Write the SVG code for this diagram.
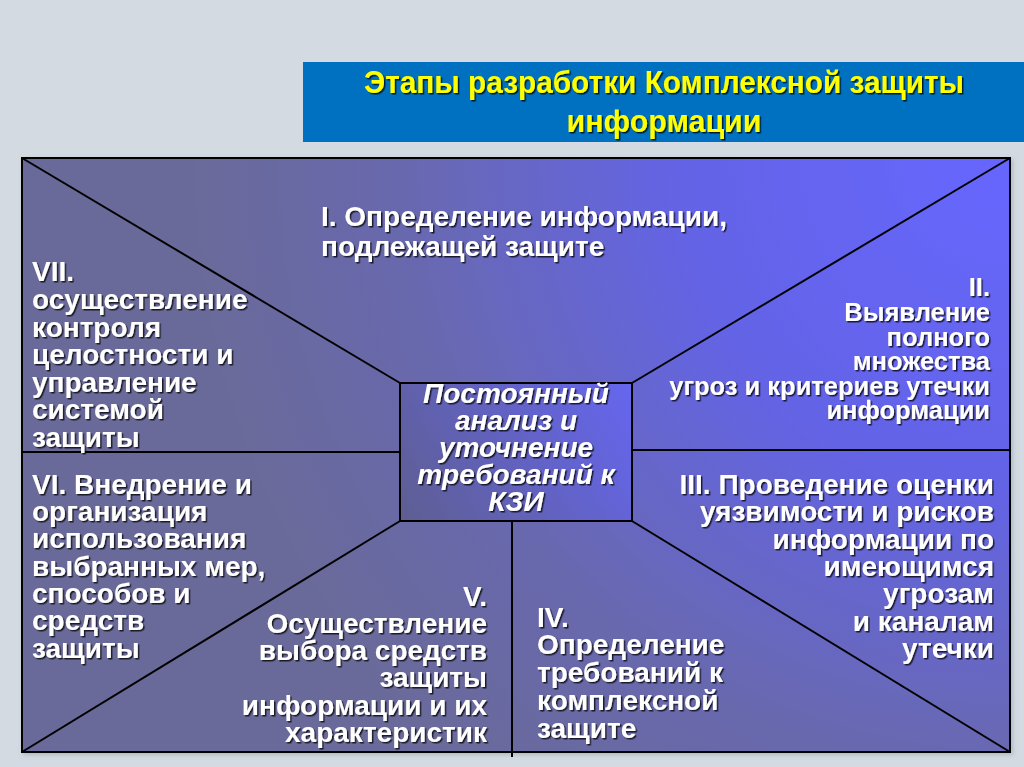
<svg xmlns="http://www.w3.org/2000/svg" width="1024" height="767" viewBox="0 0 1024 767">
<defs>
<radialGradient id="mainGrad" gradientUnits="userSpaceOnUse" cx="1010" cy="158" r="820">
<stop offset="0" stop-color="#6666FF"/>
<stop offset="0.4" stop-color="#6464E6"/>
<stop offset="0.75" stop-color="#6868AE"/>
<stop offset="1" stop-color="#6A6A9A"/>
</radialGradient>
<linearGradient id="boxGrad" gradientUnits="userSpaceOnUse" x1="632" y1="383" x2="400" y2="521">
<stop offset="0" stop-color="#6666F0"/>
<stop offset="1" stop-color="#5E5E92"/>
</linearGradient>
<filter id="shadow" x="-5%" y="-20%" width="110%" height="140%">
<feDropShadow dx="1.5" dy="1.5" stdDeviation="0.6" flood-color="#000" flood-opacity="0.75"/>
</filter>
<filter id="boxShadow" x="-5%" y="-5%" width="110%" height="110%">
<feDropShadow dx="2" dy="2" stdDeviation="2" flood-color="#8899AA" flood-opacity="0.5"/>
</filter>
</defs>
<style>
.lbl{font-family:"Liberation Sans",Arial,sans-serif;font-weight:bold;font-size:28px;fill:#FFFFFF;filter:url(#shadow)}
.small{font-size:25.5px}
.ctr{font-style:italic;text-anchor:middle}
.end{text-anchor:end}
.title{font-family:"Liberation Sans",Arial,sans-serif;font-weight:bold;font-size:31px;fill:#FFFF00;text-anchor:middle;filter:url(#shadow)}
.conn{stroke:#000;stroke-width:2;fill:none}
</style>
<rect x="0" y="0" width="1024" height="767" fill="#D3DAE1"/>
<g id="title">
<rect x="303" y="62" width="721" height="80" fill="#0070C0"/>
<text class="title" x="664" y="93" textLength="600" lengthAdjust="spacingAndGlyphs">Этапы разработки Комплексной защиты</text>
<text class="title" x="664" y="132" textLength="195" lengthAdjust="spacingAndGlyphs">информации</text>
</g>
<g id="frame">
<rect x="22" y="158" width="988" height="594" fill="url(#mainGrad)" stroke="#000" stroke-width="2" filter="url(#boxShadow)"/>
</g>
<g id="connectors">
<line class="conn" x1="22" y1="158" x2="400" y2="383"/>
<line class="conn" x1="1010" y1="158" x2="632" y2="383"/>
<line class="conn" x1="22" y1="452" x2="400" y2="452"/>
<line class="conn" x1="632" y1="450" x2="1010" y2="450"/>
<line class="conn" x1="400" y1="521" x2="22" y2="752"/>
<line class="conn" x1="632" y1="521" x2="1010" y2="752"/>
<line class="conn" x1="512" y1="521" x2="512" y2="757"/>
</g>
<g id="center">
<rect x="400" y="383" width="232" height="138" fill="url(#boxGrad)" stroke="#000" stroke-width="2"/>
<text class="lbl ctr" x="516" y="403">Постоянный</text>
<text class="lbl ctr" x="516" y="430">анализ и</text>
<text class="lbl ctr" x="516" y="457">уточнение</text>
<text class="lbl ctr" x="516" y="484">требований к</text>
<text class="lbl ctr" x="516" y="511">КЗИ</text>
</g>
<g id="stage1">
<text class="lbl" x="321" y="226">I. Определение информации,</text>
<text class="lbl" x="321" y="256">подлежащей защите</text>
</g>
<g id="stage2">
<text class="lbl small end" x="990" y="296">II.</text>
<text class="lbl small end" x="990" y="321">Выявление</text>
<text class="lbl small end" x="990" y="346">полного</text>
<text class="lbl small end" x="990" y="370">множества</text>
<text class="lbl small end" x="990" y="395">угроз и критериев утечки</text>
<text class="lbl small end" x="990" y="419">информации</text>
</g>
<g id="stage3">
<text class="lbl end" x="994" y="494">III. Проведение оценки</text>
<text class="lbl end" x="994" y="521">уязвимости и рисков</text>
<text class="lbl end" x="994" y="549">информации по</text>
<text class="lbl end" x="994" y="576">имеющимся</text>
<text class="lbl end" x="994" y="603">угрозам</text>
<text class="lbl end" x="994" y="631">и каналам</text>
<text class="lbl end" x="994" y="658">утечки</text>
</g>
<g id="stage4">
<text class="lbl" x="537" y="627">IV.</text>
<text class="lbl" x="537" y="654">Определение</text>
<text class="lbl" x="537" y="682">требований к</text>
<text class="lbl" x="537" y="710">комплексной</text>
<text class="lbl" x="537" y="738">защите</text>
</g>
<g id="stage5">
<text class="lbl end" x="487" y="606">V.</text>
<text class="lbl end" x="487" y="633">Осуществление</text>
<text class="lbl end" x="487" y="660">выбора средств</text>
<text class="lbl end" x="487" y="687">защиты</text>
<text class="lbl end" x="487" y="715">информации и их</text>
<text class="lbl end" x="487" y="742">характеристик</text>
</g>
<g id="stage6">
<text class="lbl" x="32" y="494">VI. Внедрение и</text>
<text class="lbl" x="32" y="521">организация</text>
<text class="lbl" x="32" y="548">использования</text>
<text class="lbl" x="32" y="576">выбранных мер,</text>
<text class="lbl" x="32" y="603">способов и</text>
<text class="lbl" x="32" y="630">средств</text>
<text class="lbl" x="32" y="658">защиты</text>
</g>
<g id="stage7">
<text class="lbl" x="32" y="281">VII.</text>
<text class="lbl" x="32" y="309">осуществление</text>
<text class="lbl" x="32" y="337">контроля</text>
<text class="lbl" x="32" y="364">целостности и</text>
<text class="lbl" x="32" y="392">управление</text>
<text class="lbl" x="32" y="419">системой</text>
<text class="lbl" x="32" y="447">защиты</text>
</g>
</svg>
